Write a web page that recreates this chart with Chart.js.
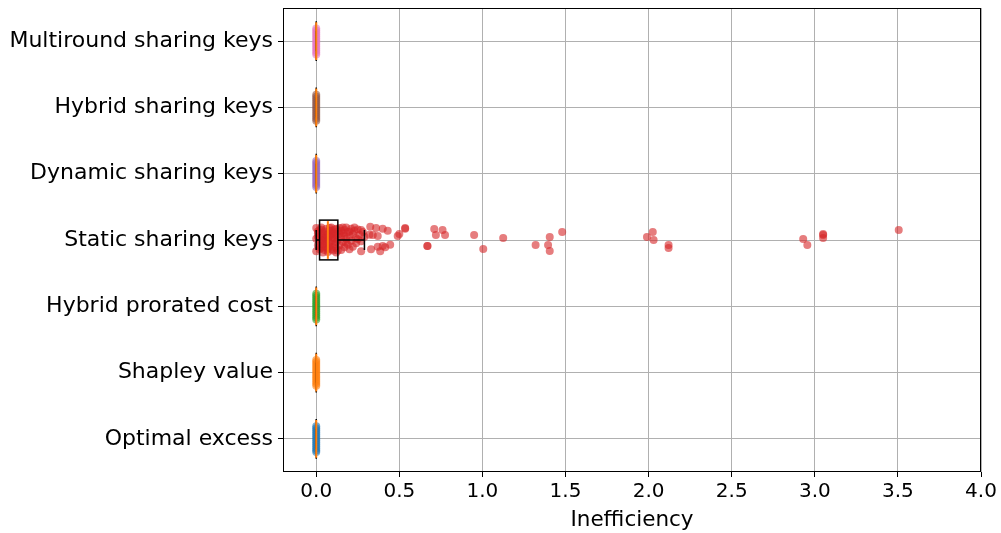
<!DOCTYPE html>
<html>
<head>
<meta charset="utf-8">
<script src="https://cdn.jsdelivr.net/npm/chart.js@4.4.1/dist/chart.umd.min.js"></script>
<style>
  html, body { margin: 0; padding: 0; background: #fff; }
  #wrap { width: 1001px; height: 533px; }
</style>
</head>
<body>
<div id="wrap"><canvas id="chart"></canvas></div>
<script>
// Categories from bottom to top, as matplotlib stacks them
const categories = [
    'Optimal excess',
    'Shapley value',
    'Hybrid prorated cost',
    'Static sharing keys',
    'Dynamic sharing keys',
    'Hybrid sharing keys',
    'Multiround sharing keys'
];
const colors = ['#1f77b4', '#ff7f0e', '#2ca02c', '#d62728', '#9467bd', '#8c564b', '#e377c2'];

// Box statistics
const boxMin    = [0, 0, 0, 0.00, 0, 0, 0];
const boxQ1     = [0, 0, 0, 0.02, 0, 0, 0];
const boxMedian = [0, 0, 0, 0.07, 0, 0, 0];
const boxQ3     = [0, 0, 0, 0.13, 0, 0, 0];
const boxMax    = [0, 0, 0, 0.29, 0, 0, 0];

// Strip points for the methods that always give zero: [value, jitter]
const zeroPoints = [
    [0, -0.20], [0, -0.17], [0, -0.14], [0, -0.11], [0, -0.08], [0, -0.05], [0, -0.02],
    [0, 0.01], [0, 0.04], [0, 0.07], [0, 0.10], [0, 0.13], [0, 0.16], [0, 0.19]
];

// Strip points for static sharing keys: [value, jitter]
const staticPoints = [
    [0.00, 0.18], [0.01, 0.10], [0.00, 0.02], [0.01, -0.08], [0.00, -0.17], [0.02, 0.15],
    [0.02, 0.05], [0.02, -0.03], [0.03, -0.12], [0.03, 0.19], [0.03, 0.08], [0.04, -0.19],
    [0.04, 0.00], [0.04, -0.07], [0.05, 0.13], [0.05, -0.15], [0.05, 0.04], [0.06, 0.17],
    [0.06, -0.05], [0.06, -0.11], [0.07, 0.09], [0.07, -0.18], [0.07, 0.01], [0.08, 0.14],
    [0.08, -0.09], [0.08, 0.06], [0.09, -0.14], [0.09, 0.19], [0.09, -0.02], [0.10, 0.11],
    [0.10, -0.16], [0.10, 0.03], [0.11, -0.06], [0.11, 0.16], [0.12, -0.12], [0.12, 0.07],
    [0.12, -0.19], [0.13, 0.00], [0.13, 0.13], [0.14, -0.08], [0.14, 0.18], [0.15, 0.05],
    [0.15, -0.15], [0.16, 0.10], [0.16, -0.03], [0.17, 0.15], [0.17, -0.11], [0.18, 0.02],
    [0.18, 0.19], [0.19, -0.07], [0.19, 0.12], [0.20, -0.14], [0.20, 0.06], [0.21, 0.17],
    [0.21, -0.01], [0.22, 0.09], [0.22, -0.10], [0.23, 0.14], [0.24, 0.03], [0.24, -0.05],
    [0.25, 0.16], [0.26, 0.08], [0.27, -0.02], [0.28, 0.12], [0.29, 0.05], [0.01, 0.13],
    [0.02, -0.14], [0.03, 0.00], [0.04, 0.11], [0.05, -0.02], [0.06, 0.07], [0.07, -0.13],
    [0.08, 0.18], [0.09, 0.08], [0.11, 0.02], [0.12, 0.17], [0.13, -0.16], [0.14, 0.09],
    [0.16, 0.19], [0.18, -0.04], [0.20, 0.13], [0.23, 0.19], [0.25, 0.01], [0.27, 0.15],
    [0.27, -0.17], [0.32, 0.08], [0.325, 0.20], [0.33, -0.14], [0.34, 0.075], [0.36, 0.18],
    [0.37, 0.06], [0.37, -0.10], [0.385, -0.17], [0.40, 0.17], [0.40, -0.09], [0.415, -0.11],
    [0.43, 0.14], [0.445, -0.07], [0.49, 0.06], [0.50, 0.09], [0.535, 0.17], [0.535, 0.18],
    [0.668, -0.09], [0.67, -0.09], [0.71, 0.165], [0.72, 0.075], [0.76, 0.15], [0.775, 0.075],
    [0.95, 0.075], [1.005, -0.135], [1.125, 0.03], [1.32, -0.075], [1.395, -0.075],
    [1.405, 0.045], [1.405, -0.165], [1.48, 0.12], [1.99, 0.045], [2.025, 0.12], [2.03, 0.00],
    [2.12, -0.075], [2.12, -0.12], [2.93, 0.015], [2.955, -0.075], [3.05, 0.075],
    [3.05, 0.09], [3.05, 0.03], [3.505, 0.15],
    [0.01, 0.05], [0.02, -0.10], [0.03, 0.16], [0.05, -0.09], [0.06, 0.02], [0.08, -0.04],
    [0.09, 0.14], [0.10, -0.10], [0.11, 0.09], [0.12, -0.03], [0.15, 0.14], [0.17, 0.06]
];

const boxHalf = 0.3;
const capHalf = 0.15;

function buildDatasets() {
    return categories.map((name, i) => {
        const pts = (i === 3 ? staticPoints : zeroPoints).map(p => ({ x: p[0], y: i + p[1] }));
        const c = Chart.helpers.color(colors[i]);
        return {
            label: name,
            data: pts,
            pointRadius: 4,
            pointHoverRadius: 4,
            pointBorderWidth: 0,
            pointBackgroundColor: c.alpha(0.6).rgbString(),
            pointBorderColor: 'rgba(0,0,0,0)',
            showLine: false
        };
    });
}

const boxPlugin = {
    id: 'boxes',
    afterDatasetsDraw(chart) {
        const ctx = chart.ctx;
        const xs = chart.scales.x;
        const ys = chart.scales.y;
        ctx.save();
        categories.forEach((name, i) => {
            const yc = ys.getPixelForValue(i);
            const yt = ys.getPixelForValue(i + boxHalf);
            const yb = ys.getPixelForValue(i - boxHalf);
            const ct = ys.getPixelForValue(i + capHalf);
            const cb = ys.getPixelForValue(i - capHalf);
            const x0 = xs.getPixelForValue(boxMin[i]);
            const x1 = xs.getPixelForValue(boxQ1[i]);
            const xm = xs.getPixelForValue(boxMedian[i]);
            const x3 = xs.getPixelForValue(boxQ3[i]);
            const x4 = xs.getPixelForValue(boxMax[i]);

            ctx.strokeStyle = '#000';
            ctx.lineWidth = 1.5;
            ctx.strokeRect(x1, yt, x3 - x1, yb - yt);
            ctx.beginPath();
            ctx.moveTo(x0, yc); ctx.lineTo(x1, yc);
            ctx.moveTo(x3, yc); ctx.lineTo(x4, yc);
            ctx.moveTo(x0, ct); ctx.lineTo(x0, cb);
            ctx.moveTo(x4, ct); ctx.lineTo(x4, cb);
            ctx.stroke();

            ctx.strokeStyle = '#ff7f0e';
            ctx.lineWidth = 2;
            ctx.beginPath();
            ctx.moveTo(xm, yt + 1); ctx.lineTo(xm, yb - 1);
            ctx.stroke();
        });
        // axes frame
        const a = chart.chartArea;
        ctx.strokeStyle = '#000';
        ctx.lineWidth = 1;
        ctx.strokeRect(a.left + 0.5, a.top + 0.5, a.right - a.left - 1, a.bottom - a.top - 1);
        ctx.restore();
    }
};

const font = { family: 'DejaVu Sans', size: 22 };

new Chart(document.getElementById('chart'), {
    type: 'scatter',
    data: { datasets: buildDatasets() },
    options: {
        responsive: true,
        maintainAspectRatio: false,
        animation: false,
        layout: { padding: { top: 8, right: 20, left: 0, bottom: 0 } },
        plugins: {
            legend: { display: false },
            tooltip: { enabled: false }
        },
        scales: {
            x: {
                type: 'linear',
                min: -0.2,
                max: 4.0,
                afterFit: s => { s.height = 61; },
                grid: { color: '#b0b0b0', lineWidth: 1, tickColor: '#000', tickLength: 5 },
                border: { display: false },
                ticks: {
                    stepSize: 0.5,
                    includeBounds: false,
                    color: '#000',
                    font: { family: 'DejaVu Sans', size: 20 },
                    padding: 3,
                    maxRotation: 0,
                    callback: v => v.toFixed(1)
                },
                title: {
                    display: true,
                    text: 'Inefficiency',
                    color: '#000',
                    font: { family: 'DejaVu Sans', size: 21.5 },
                    padding: { top: 0, bottom: 0 }
                }
            },
            y: {
                type: 'linear',
                min: -0.5,
                max: 6.5,
                afterFit: s => { s.width = 283; s.paddingTop = 0; s.paddingBottom = 0; },
                afterBuildTicks: s => { s.ticks = categories.map((c, i) => ({ value: i })); },
                grid: { color: '#b0b0b0', lineWidth: 1, tickColor: '#000', tickLength: 5 },
                border: { display: false },
                ticks: {
                    color: '#000',
                    font: font,
                    padding: 5,
                    callback: v => categories[v]
                }
            }
        }
    },
    plugins: [boxPlugin]
});
</script>
</body>
</html>
